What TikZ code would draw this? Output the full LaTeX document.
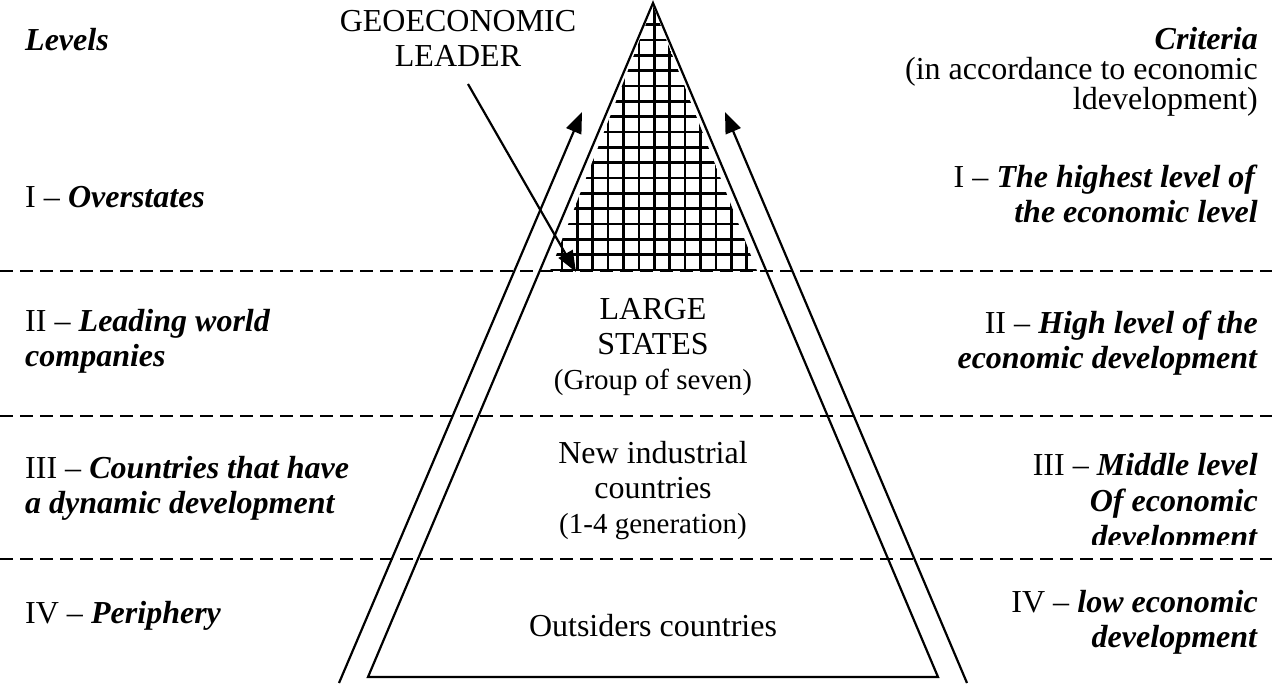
\documentclass[tikz,border=0pt]{standalone}
\usepackage{fontspec}
\setmainfont{Liberation Serif}
\usetikzlibrary{arrows.meta}

\newcommand{\bigfont}{\fontsize{32}{35}\selectfont}
\newcommand{\smallerfont}{\fontsize{29}{35}\selectfont}
\newcommand{\crit}[1]{\textbf{\textit{#1}}}

\begin{document}
\begin{tikzpicture}[x=1pt, y=-1pt,
    every node/.style={inner sep=0pt, font=\bigfont},
    levelrow/.style={dash pattern=on 13pt off 7pt, line width=2.2pt},
    edge/.style={line width=2.2pt},
    gridline/.style={line width=2.6pt},
    rise/.style={line width=2.2pt, -{Triangle[length=21pt,width=16pt]}},
    lefttext/.style={anchor=north west, align=left},
    righttext/.style={anchor=north east, align=right},
    midtext/.style={anchor=north, align=center}]
  \useasboundingbox (0,0) rectangle (1272,684);

  % level borders
  \draw[levelrow] (0,271) -- (1272,271);
  \draw[levelrow] (0,416) -- (1272,416);
  \draw[levelrow] (0,559) -- (1272,559);

  % pyramid with the hatched top
  \coordinate (top) at (653,3);
  \coordinate (bl) at (368,677);
  \coordinate (br) at (938,677);
  \begin{scope}
    \clip (653,6) -- (550,271) -- (757,271) -- cycle;
    \foreach \i in {-7,...,7}
      \draw[gridline] (654.3+15.4*\i,0) -- ++(0,271);
    \foreach \j in {0,...,16}
      \draw[gridline] (540,270-15.33*\j) -- ++(230,0);
  \end{scope}
  \draw[edge] (bl) -- (top) -- (br) -- cycle;

  % rising arrows
  \coordinate (lfoot) at (339,683);
  \coordinate (ltip) at (582,112);
  \coordinate (rfoot) at (967,683);
  \coordinate (rtip) at (725,112);
  \draw[rise] (lfoot) -- (ltip);
  \draw[rise] (rfoot) -- (rtip);

  % leader
  \node[midtext] (leader) at (458,10) {GEOECONOMIC\\LEADER};
  \coordinate (peak) at (576,272);
  \draw[rise, shorten <=20pt] (leader.south) -- (peak);

  % levels
  \node[lefttext, font=\bigfont\bfseries\itshape] (levels) at (25,28) {Levels};
  \node[lefttext] (l1) at (25,186) {I -- \crit{Overstates}};
  \node[lefttext] (l2) at (25,309) {II -- \crit{Leading world}\\\crit{companies}};
  \node[lefttext] (l3) at (25,456) {III -- \crit{Countries that have}\\\crit{a dynamic development}};
  \node[lefttext] (l4) at (25,601) {IV -- \crit{Periphery}};

  % criteria
  \node[righttext, font=\fontsize{32}{30}\selectfont] (crit) at (1258,27) {\crit{Criteria}\\(in accordance to economic\\ldevelopment)};
  \node[righttext] (r1) at (1258,165) {I -- \crit{The highest level of}\\\crit{the economic level}};
  \node[righttext] (r2) at (1258,311) {II -- \crit{High level of the}\\\crit{economic development}};
  \begin{scope}
    \clip (900,430) rectangle (1272,544);
    \node[righttext, font=\fontsize{32}{36}\selectfont] (r3) at (1258,453) {III -- \crit{Middle level}\\\crit{Of economic}\\\crit{development}};
  \end{scope}
  \node[righttext] (r4) at (1258,590) {IV -- \crit{low economic}\\\crit{development}};

  % inside the pyramid
  \node[midtext] (large) at (653,298) {LARGE\\STATES\\{\smallerfont (Group of seven)}};
  \node[midtext] (newind) at (653,441) {New industrial\\countries\\{\smallerfont (1-4 generation)}};
  \node[midtext] (outs) at (653,614) {Outsiders countries};
\end{tikzpicture}
\end{document}
